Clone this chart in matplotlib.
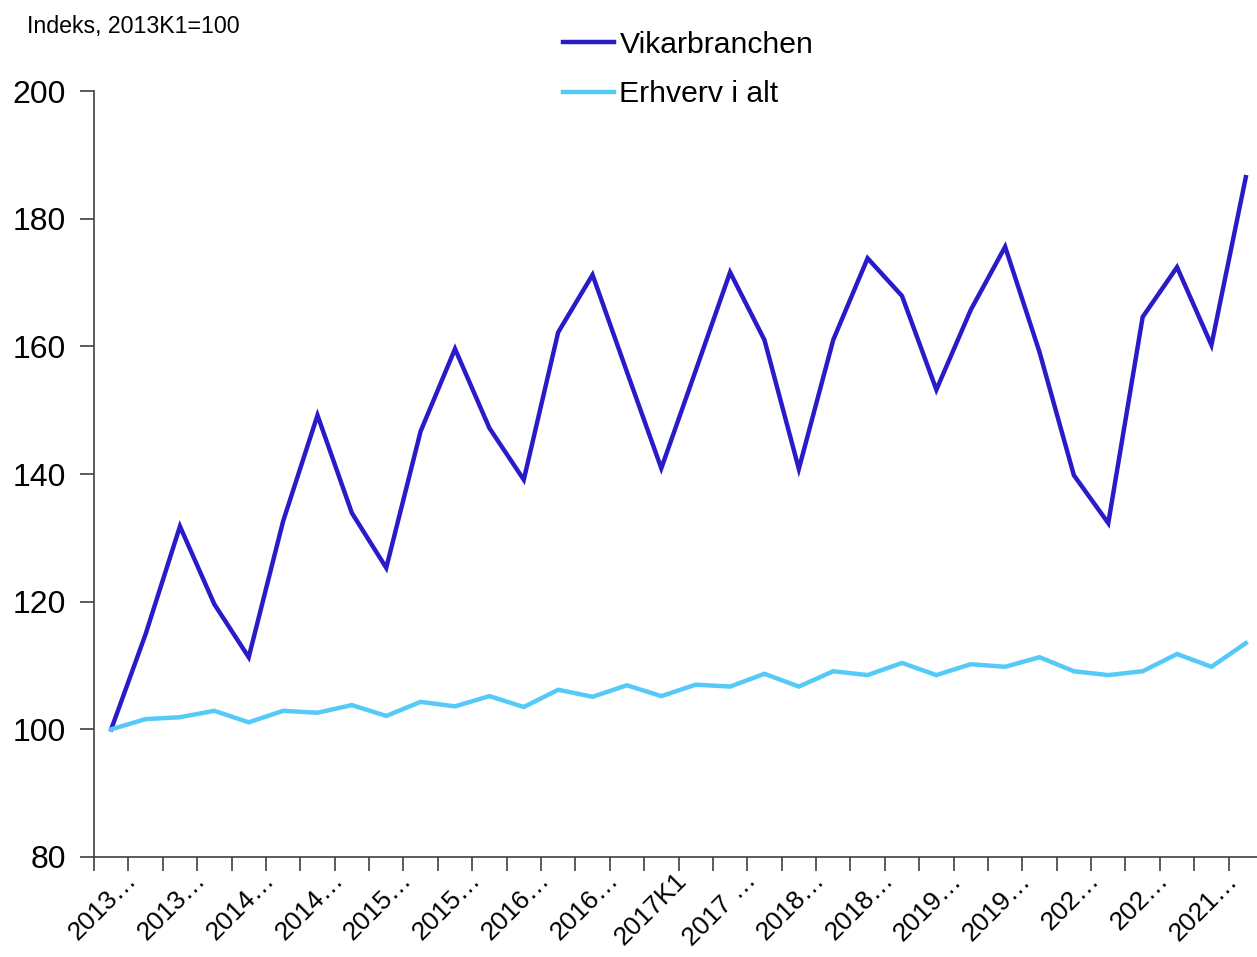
import matplotlib
matplotlib.use("Agg")
import matplotlib.pyplot as plt
import matplotlib.transforms as mtransforms

plt.rcParams['font.family'] = ['Liberation Sans', 'DejaVu Sans']

quarters = [f"{y}K{q}" for y in range(2013, 2022) for q in range(1, 5)][:34]
vikar = [100.0, 114.9, 131.8, 119.6, 111.3, 132.6, 149.2, 133.9, 125.3, 146.7,
         159.6, 147.2, 139.1, 162.2, 171.2, 156.0, 140.9, 156.2, 171.6, 161.0,
         140.8, 161.0, 173.8, 167.9, 153.2, 165.7, 175.6, 159.1, 139.8, 132.3,
         164.6, 172.4, 160.2, 186.5]
erhverv = [100.0, 101.6, 101.9, 102.9, 101.1, 102.9, 102.6, 103.8, 102.1, 104.3,
           103.6, 105.2, 103.5, 106.2, 105.1, 106.9, 105.2, 107.0, 106.7, 108.7,
           106.7, 109.1, 108.5, 110.4, 108.5, 110.2, 109.8, 111.3, 109.1, 108.5,
           109.1, 111.8, 109.8, 113.5]
tick_labels = ["2013…", "2013…", "2014…", "2014…", "2015…", "2015…", "2016…",
               "2016…", "2017K1", "2017 …", "2018…", "2018…", "2019…", "2019…",
               "202…", "202…", "2021…"]
yticks = [80, 100, 120, 140, 160, 180, 200]

W, H = 1257, 957
fig = plt.figure(figsize=(W / 100, H / 100), dpi=100)
ax = fig.add_axes([94 / W, 1 - 857 / H, (1263 - 94) / W, (857 - 91) / H])

x = list(range(len(quarters)))
l1, = ax.plot(x, vikar, color='#2A1BC9', lw=3.2, solid_joinstyle='miter', label='Vikarbranchen')
l2, = ax.plot(x, erhverv, color='#55C9F8', lw=3.2, solid_joinstyle='miter', label='Erhverv i alt')

ax.set_xlim(-0.5, len(quarters) - 0.5)
ax.set_ylim(80, 200)
ax.set_yticks(yticks)
ax.set_yticklabels([str(v) for v in yticks], fontsize=23)
ax.tick_params(axis='y', length=10, width=1.2, color='#404040', pad=10)

for s in ['top', 'right']:
    ax.spines[s].set_visible(False)
for s in ['left', 'bottom']:
    ax.spines[s].set_color('#404040')
    ax.spines[s].set_linewidth(1.2)

# tick marks between categories
ax.set_xticks([i - 0.5 for i in range(len(quarters) + 1)], minor=True)
ax.tick_params(axis='x', which='minor', length=10, width=1.2, color='#404040')
ax.set_xticks(list(range(0, len(quarters), 2)))
ax.set_xticklabels(tick_labels, rotation=45, ha='right', va='center',
                   rotation_mode='anchor', fontsize=19)
ax.tick_params(axis='x', which='major', length=0, pad=14)
offset = mtransforms.ScaledTranslation(22 / 100, 0, fig.dpi_scale_trans)
for lab in ax.get_xticklabels():
    lab.set_transform(lab.get_transform() + offset)

fig.text(27 / W, 1 - 26 / H, "Indeks, 2013K1=100", fontsize=16.7, va='center', ha='left')

leg = fig.legend(handles=[l1, l2], loc='upper left', bbox_to_anchor=(563 / W, 1 - 31 / H),
                 frameon=False, fontsize=21.7, handlelength=1.7, handletextpad=0.17,
                 labelspacing=0.7, borderaxespad=0, borderpad=0)

fig.savefig('out.png', dpi=100)
